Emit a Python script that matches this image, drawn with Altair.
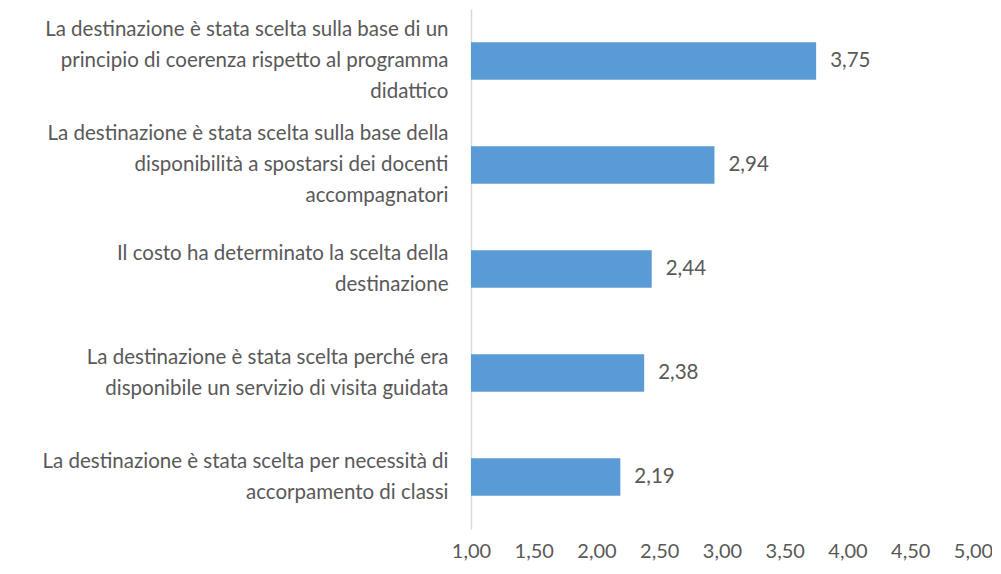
import altair as alt
import pandas as pd

categories = [
    "La destinazione è stata scelta sulla base di un|principio di coerenza rispetto al programma|didattico",
    "La destinazione è stata scelta sulla base della|disponibilità a spostarsi dei docenti|accompagnatori",
    "Il costo ha determinato la scelta della|destinazione",
    "La destinazione è stata scelta perché era|disponibile un servizio di visita guidata",
    "La destinazione è stata scelta per necessità di|accorpamento di classi",
]
values = [3.75, 2.94, 2.44, 2.38, 2.19]
ticks = [1, 1.5, 2, 2.5, 3, 3.5, 4, 4.5, 5]

df = pd.DataFrame({"cat": categories, "val": values})
df["lbl"] = [f"{v:.2f}".replace(".", ",") for v in values]

FONT = "Lato"
TXT = "#595959"
FS = 20.5

y_enc = alt.Y("cat:N", sort=categories, title=None,
              scale=alt.Scale(paddingInner=0.64, paddingOuter=0.32),
              axis=alt.Axis(labelExpr="split(datum.label, '|')", labelFontSize=FS,
                            labelFont=FONT, labelColor=TXT, labelLineHeight=31,
                            labelPadding=23, labelLimit=470, ticks=False,
                            labelOffset={"condition": [
                                {"test": "length(split(datum.value, '|')) == 3", "value": -31},
                                {"test": "length(split(datum.value, '|')) == 2", "value": -15}],
                                "value": 0},
                            domainColor="#d9d9d9", domainWidth=1.5, labelAlign="right"))
x_enc = alt.X("val:Q", title=None,
              scale=alt.Scale(domain=[1, 5], nice=False, zero=False),
              axis=alt.Axis(values=ticks,
                            labelExpr="replace(format(datum.value, '.2f'), '.', ',')",
                            labelFontSize=20, labelFont=FONT, labelColor=TXT, labelFlush=False,
                            domain=False, ticks=False, grid=False, labelPadding=12))

bars = alt.Chart(df).mark_bar(color="#5B9BD5").encode(x=x_enc, x2=alt.X2(datum=1), y=y_enc)
text = alt.Chart(df).mark_text(align="left", dx=14, fontSize=FS, font=FONT, color=TXT).encode(
    x=alt.X("val:Q"), y=alt.Y("cat:N", sort=categories), text="lbl:N")

chart = (bars + text).properties(
    width=502, height=520,
    autosize=alt.AutoSizeParams(type="none"),
    padding={"left": 463, "top": 1, "right": 19, "bottom": 37},
).configure_view(stroke=None)

chart.save("out.html", embed_options={"renderer": "svg", "actions": False})
